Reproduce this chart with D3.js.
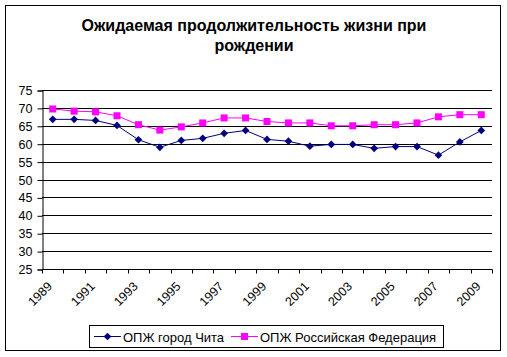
<!DOCTYPE html>
<html><head><meta charset="utf-8">
<script src="https://cdn.jsdelivr.net/npm/d3@7/dist/d3.min.js"></script>
<style>body{margin:0;background:#fff}svg{display:block}text{font-family:Arial,"Liberation Sans",sans-serif}</style>
</head><body><svg id="c" width="507" height="357"></svg>
<script>
const years = [1989,1990,1991,1992,1993,1994,1995,1996,1997,1998,1999,2000,2001,2002,2003,2004,2005,2006,2007,2008,2009];
const chita = [66.8,66.8,66.5,65.1,61.1,59.0,60.9,61.5,62.9,63.7,61.2,60.7,59.3,59.8,59.8,58.7,59.2,59.2,56.8,60.5,63.7];
const russia = [69.7,69.1,68.9,67.8,65.3,63.8,64.7,65.8,67.2,67.2,66.2,65.8,65.8,65.0,65.0,65.3,65.3,65.8,67.5,68.1,68.1];
const yTicks = [25,30,35,40,45,50,55,60,65,70,75];
const seriesNames = ["ОПЖ город Чита","ОПЖ Российская Федерация"];
const titleLines = ["Ожидаемая продолжительность жизни при","рождении"];

const svg = d3.select("#c");
svg.append("rect").attr("x",5.5).attr("y",5.5).attr("width",495).attr("height",345)
  .attr("fill","#fff").attr("stroke","#000");

const L=42, R=492, T=90, B=269;
const x = d3.scaleBand().domain(years).range([L,R]);
const y = d3.scaleLinear().domain([25,75]).range([B,T]);

// title
svg.append("g").selectAll("text").data(titleLines).join("text")
  .attr("x",254).attr("y",(d,i)=>31+i*20).attr("text-anchor","middle")
  .attr("font-size","16px").attr("font-weight","bold").text(d=>d);

// gridlines
svg.append("g").selectAll("line").data(yTicks.filter(v=>v>25)).join("line")
  .attr("x1",L).attr("x2",R).attr("y1",d=>Math.round(y(d))+0.5).attr("y2",d=>Math.round(y(d))+0.5)
  .attr("stroke","#000");

// y axis
const ya = svg.append("g").attr("transform",`translate(${L+0.5},0.5)`)
  .call(d3.axisLeft(y).tickValues(yTicks).tickSize(5).tickPadding(5).tickFormat(d3.format("d")));
ya.selectAll("text").attr("font-size","12.5px").attr("fill","#000").attr("font-family","Arial");
ya.select(".domain").attr("stroke","#000");
ya.selectAll("line").attr("stroke","#000");

// x axis with ticks at category boundaries
const xa = svg.append("g").attr("transform",`translate(0.5,${B+0.5})`);
xa.append("line").attr("x1",L).attr("x2",R).attr("stroke","#000");
const bounds = years.map(d=>x(d)).concat([R]);
xa.selectAll("line.t").data(bounds).join("line").attr("class","t")
  .attr("x1",d=>Math.round(d)).attr("x2",d=>Math.round(d)).attr("y1",0).attr("y2",4).attr("stroke","#000");
xa.selectAll("text").data(years.filter((d,i)=>i%2===0)).join("text")
  .attr("transform",d=>`translate(${x(d)+x.bandwidth()/2-7},${11}) rotate(-45)`)
  .attr("text-anchor","end").attr("dy","0.75em").attr("font-size","12.5px").text(d=>d);

// lines
const line = d3.line().x((d,i)=>x(years[i])+x.bandwidth()/2).y(d=>y(d));
svg.append("path").datum(russia).attr("d",line).attr("fill","none").attr("stroke","#FF00FF").attr("stroke-width",1);
svg.append("path").datum(chita).attr("d",line).attr("fill","none").attr("stroke","#000080").attr("stroke-width",1);

const diamond = d3.symbol().type(d3.symbolDiamond2).size(38);
svg.append("g").selectAll("path").data(russia).join("rect")
  .attr("x",(d,i)=>x(years[i])+x.bandwidth()/2-3.5).attr("y",d=>y(d)-3.5)
  .attr("width",7).attr("height",7).attr("fill","#FF00FF");
svg.append("g").selectAll("path").data(chita).join("path")
  .attr("d",diamond).attr("transform",(d,i)=>`translate(${x(years[i])+x.bandwidth()/2},${y(d)})`)
  .attr("fill","#000080");

// legend
const lg = svg.append("g");
lg.append("rect").attr("x",89.5).attr("y",325.5).attr("width",354).attr("height",22).attr("fill","#fff").attr("stroke","#000");
const items = [{x:94,color:"#000080",sym:"d"},{x:231,color:"#FF00FF",sym:"s"}];
items.forEach((it,i)=>{
  lg.append("line").attr("x1",it.x).attr("x2",it.x+27).attr("y1",336.5).attr("y2",336.5).attr("stroke",it.color);
  if(it.sym==="d") lg.append("path").attr("d",diamond).attr("transform",`translate(${it.x+13.5},336.5)`).attr("fill",it.color);
  else lg.append("rect").attr("x",it.x+10).attr("y",333).attr("width",7).attr("height",7).attr("fill",it.color);
  lg.append("text").attr("x",it.x+29).attr("y",341.5).attr("font-size","13px").text(seriesNames[i]);
});
</script></body></html>
